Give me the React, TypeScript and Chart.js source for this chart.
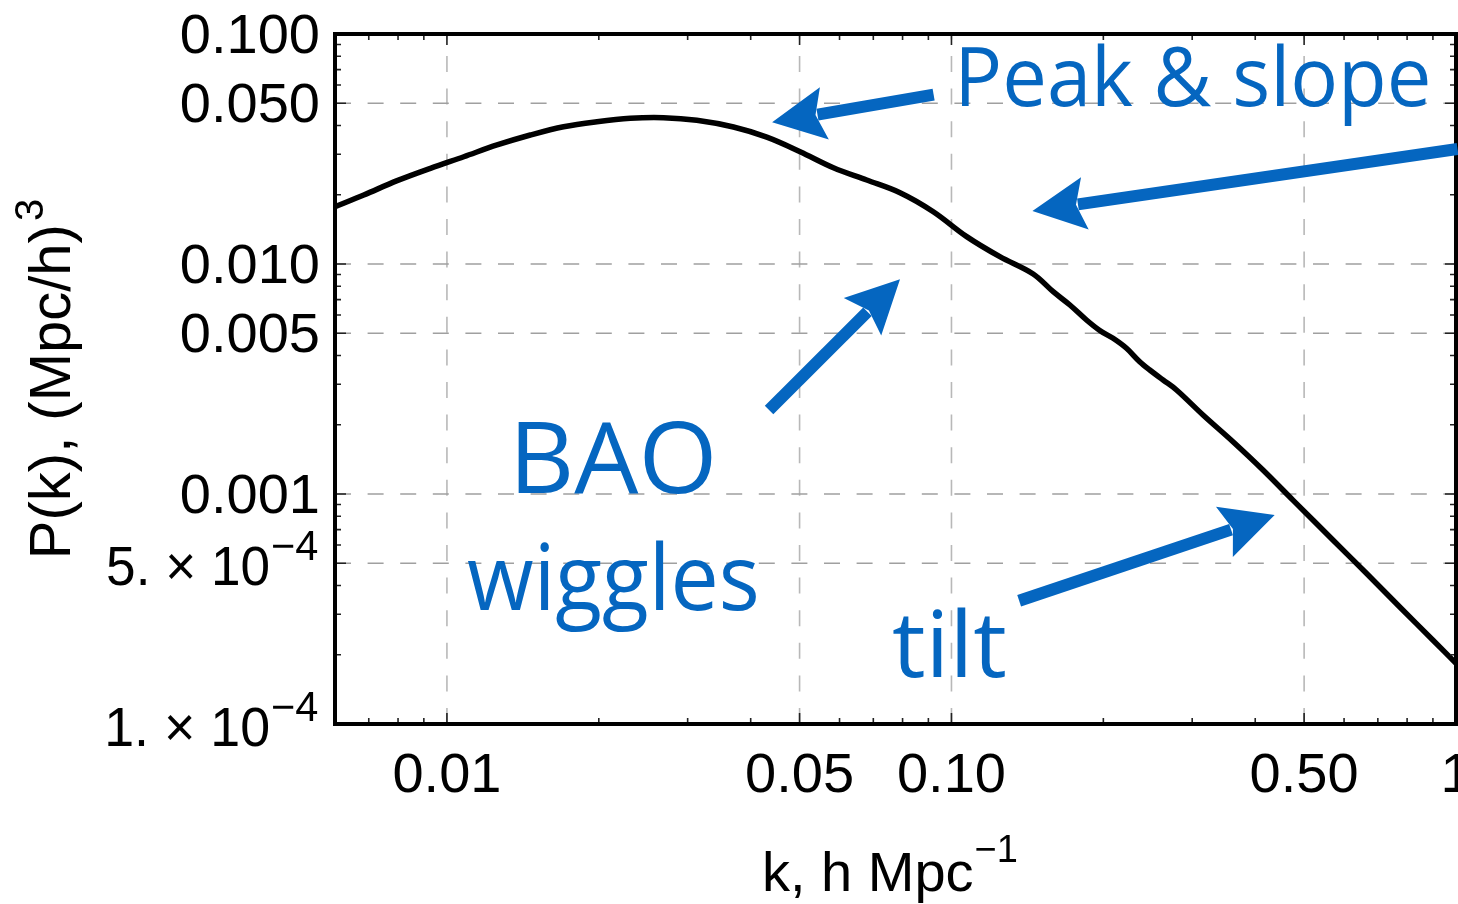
import React, { useEffect, useRef } from 'react';
import { Chart, registerables } from 'chart.js';

Chart.register(...registerables);

// ---- data ----
const K_VALUES = [
  0.006, 0.006842, 0.007967, 0.009275, 0.0108, 0.01257, 0.01463, 0.01703, 0.01983, 0.02309,
  0.02687, 0.03128, 0.03698, 0.04305, 0.05012, 0.05834, 0.06793, 0.07907, 0.09204, 0.1072,
  0.1247, 0.1452, 0.1591, 0.1717, 0.1852, 0.1968, 0.2091, 0.2223, 0.2361, 0.2472,
  0.2627, 0.2793, 0.3152, 0.3614, 0.4144, 0.4751, 0.5702, 0.6643, 0.7728, 0.8995, 1.0,
];
const P_VALUES = [
  0.01774, 0.01995, 0.02303, 0.02607, 0.02927, 0.03292, 0.03638, 0.03954, 0.04157, 0.043,
  0.04326, 0.04215, 0.0394, 0.0356, 0.03078, 0.02623, 0.02318, 0.02042, 0.01688, 0.01315,
  0.01076, 0.009048, 0.007578, 0.006634, 0.005708, 0.005139, 0.004753, 0.0043, 0.00376, 0.003459,
  0.003131, 0.002833, 0.002206, 0.001688, 0.001272, 0.000941, 0.000631, 0.000452, 0.0003236, 0.0002318, 0.0001836,
];

const X_MIN = 0.006;
const X_MAX = 1;
const Y_MIN = 0.0001;
const Y_MAX = 0.1;

const X_TICK_VALUES = [0.01, 0.05, 0.1, 0.5, 1];
const X_TICK_LABELS = ['0.01', '0.05', '0.10', '0.50', '1'];
const Y_TICK_VALUES = [0.1, 0.05, 0.01, 0.005, 0.001, 0.0005, 0.0001];
const Y_TICK_LABELS = ['0.100', '0.050', '0.010', '0.005', '0.001', '5. \u00d7 10', '1. \u00d7 10'];
const Y_TICK_EXPONENTS = ['', '', '', '', '', '\u22124', '\u22124'];
const X_GRID = [0.01, 0.05, 0.1, 0.5];
const Y_GRID = [0.05, 0.01, 0.005, 0.001, 0.0005];

const X_TITLE = 'k, h Mpc';
const X_TITLE_EXP = '\u22121';
const Y_TITLE = 'P(k), (Mpc/h)';
const Y_TITLE_EXP = '3';

// annotation arrows in data coordinates (tail -> tip)
const ARROW_FROM_K = [0.09218, 1.007, 0.0435, 0.1362];
const ARROW_FROM_P = [0.05446, 0.03162, 0.002318, 0.0003436];
const ARROW_TO_K = [0.04411, 0.1447, 0.07907, 0.4371];
const ARROW_TO_P = [0.04131, 0.017, 0.00858, 0.00081];

const NOTES = ['Peak & slope', 'BAO', 'wiggles', 'tilt'];

const BLUE = '#0566c0';
const AXIS_FONT = '"Liberation Sans", Arial, sans-serif';
const NOTE_FONT = '"Open Sans", sans-serif';

function fitText(ctx: CanvasRenderingContext2D, text: string, left: number, right: number, baseline: number) {
  ctx.save();
  ctx.textAlign = 'left';
  ctx.textBaseline = 'alphabetic';
  const m = ctx.measureText(text);
  const abl = m.actualBoundingBoxLeft;
  const abr = m.actualBoundingBoxRight;
  const sx = (right - left) / (abl + abr);
  ctx.translate(left, baseline);
  ctx.scale(sx, 1);
  ctx.fillText(text, abl, 0);
  ctx.restore();
}

function drawArrow(ctx: CanvasRenderingContext2D, x1: number, y1: number, x2: number, y2: number) {
  const dx = x2 - x1;
  const dy = y2 - y1;
  const len = Math.hypot(dx, dy);
  const ux = dx / len;
  const uy = dy / len;
  const nx = -uy;
  const ny = ux;
  const H = 53;
  const W = 26.5;
  const N = 44;
  ctx.save();
  ctx.strokeStyle = BLUE;
  ctx.fillStyle = BLUE;
  ctx.lineWidth = 12;
  ctx.lineCap = 'butt';
  ctx.beginPath();
  ctx.moveTo(x1, y1);
  ctx.lineTo(x2 - ux * (N + 2), y2 - uy * (N + 2));
  ctx.stroke();
  ctx.beginPath();
  ctx.moveTo(x2, y2);
  ctx.lineTo(x2 - ux * H + nx * W, y2 - uy * H + ny * W);
  ctx.lineTo(x2 - ux * N, y2 - uy * N);
  ctx.lineTo(x2 - ux * H - nx * W, y2 - uy * H - ny * W);
  ctx.closePath();
  ctx.fill();
  ctx.restore();
}

function logTicks(min: number, max: number): number[] {
  const out: number[] = [];
  for (let e = Math.floor(Math.log10(min)); e <= Math.ceil(Math.log10(max)); e++) {
    for (let m = 1; m <= 9; m++) {
      const v = m * Math.pow(10, e);
      if (v >= min * 0.999 && v <= max * 1.001) out.push(v);
    }
  }
  return out;
}

const isIn = (v: number, arr: number[]) => arr.some((a) => Math.abs(a - v) / a < 1e-6);

const decorPlugin = {
  id: 'decor',
  beforeDatasetsDraw(chart: any) {
    const { ctx, chartArea: a, scales } = chart;
    const x = scales.x;
    const y = scales.y;
    ctx.save();
    ctx.beginPath();
    ctx.rect(a.left, a.top, a.right - a.left, a.bottom - a.top);
    ctx.clip();
    ctx.lineWidth = 1.6;
    ctx.setLineDash([16, 16.6]);
    ctx.strokeStyle = '#b8b8b8';
    for (const v of X_GRID) {
      const px = x.getPixelForValue(v);
      ctx.beginPath();
      ctx.moveTo(px, a.bottom);
      ctx.lineTo(px, a.top);
      ctx.stroke();
    }
    ctx.strokeStyle = '#a0a0a0';
    for (const v of Y_GRID) {
      const py = y.getPixelForValue(v);
      ctx.beginPath();
      ctx.moveTo(a.left, py);
      ctx.lineTo(a.right, py);
      ctx.stroke();
    }
    ctx.restore();
  },
  afterDatasetsDraw(chart: any) {
    const { ctx, chartArea: a, scales } = chart;
    const x = scales.x;
    const y = scales.y;
    ctx.save();

    // ticks (inward, all four sides)
    ctx.strokeStyle = '#222';
    ctx.lineWidth = 1.6;
    for (const v of logTicks(X_MIN, X_MAX)) {
      const px = x.getPixelForValue(v);
      const len = isIn(v, X_TICK_VALUES) ? 11 : 6;
      ctx.beginPath();
      ctx.moveTo(px, a.bottom);
      ctx.lineTo(px, a.bottom - len);
      ctx.moveTo(px, a.top);
      ctx.lineTo(px, a.top + len);
      ctx.stroke();
    }
    for (const v of logTicks(Y_MIN, Y_MAX)) {
      const py = y.getPixelForValue(v);
      const len = isIn(v, Y_TICK_VALUES) ? 11 : 6;
      ctx.beginPath();
      ctx.moveTo(a.left, py);
      ctx.lineTo(a.left + len, py);
      ctx.moveTo(a.right, py);
      ctx.lineTo(a.right - len, py);
      ctx.stroke();
    }

    // frame
    ctx.strokeStyle = '#000';
    ctx.lineWidth = 4;
    ctx.strokeRect(a.left, a.top, a.right - a.left, a.bottom - a.top);

    // y tick labels
    ctx.fillStyle = '#000';
    ctx.textBaseline = 'alphabetic';
    Y_TICK_VALUES.forEach((v, i) => {
      const py = y.getPixelForValue(v);
      const exp = Y_TICK_EXPONENTS[i];
      if (!exp) {
        ctx.font = `56px ${AXIS_FONT}`;
        ctx.textAlign = 'right';
        ctx.fillText(Y_TICK_LABELS[i], 320, py + 19);
      } else {
        ctx.font = `42px ${AXIS_FONT}`;
        fitText(ctx, exp, 273, 318, py - 3);
        ctx.font = `56px ${AXIS_FONT}`;
        fitText(ctx, Y_TICK_LABELS[i], 108, 268, py + 22);
      }
    });

    // x tick labels
    ctx.font = `56px ${AXIS_FONT}`;
    ctx.textAlign = 'center';
    X_TICK_VALUES.forEach((v, i) => {
      const px = x.getPixelForValue(v);
      ctx.fillText(X_TICK_LABELS[i], px, 792);
    });

    // x title
    ctx.textAlign = 'left';
    ctx.font = `56px ${AXIS_FONT}`;
    const bw = ctx.measureText(X_TITLE).width;
    const startX = 762;
    ctx.fillText(X_TITLE, startX, 891);
    ctx.font = `38px ${AXIS_FONT}`;
    ctx.fillText(X_TITLE_EXP, startX + bw + 1, 862);

    // y title (rotated)
    ctx.save();
    ctx.font = `58px ${AXIS_FONT}`;
    const yb = ctx.measureText(Y_TITLE).width;
    ctx.font = `40px ${AXIS_FONT}`;
    const ye = ctx.measureText(Y_TITLE_EXP).width;
    const cy = (a.top + a.bottom) / 2;
    const total = yb + ye + 3;
    ctx.translate(70, cy + total / 2);
    ctx.rotate(-Math.PI / 2);
    ctx.font = `58px ${AXIS_FONT}`;
    ctx.fillText(Y_TITLE, 0, 0);
    ctx.font = `40px ${AXIS_FONT}`;
    ctx.fillText(Y_TITLE_EXP, yb + 3, -27);
    ctx.restore();

    // annotations
    for (let i = 0; i < ARROW_FROM_K.length; i++) {
      drawArrow(
        ctx,
        x.getPixelForValue(ARROW_FROM_K[i]),
        y.getPixelForValue(ARROW_FROM_P[i]),
        x.getPixelForValue(ARROW_TO_K[i]),
        y.getPixelForValue(ARROW_TO_P[i])
      );
    }
    ctx.fillStyle = BLUE;
    ctx.font = `83px ${NOTE_FONT}`;
    fitText(ctx, NOTES[0], 962, 1428, 106);
    ctx.font = `98px ${NOTE_FONT}`;
    fitText(ctx, NOTES[1], 518, 712, 493);
    ctx.font = `92px ${NOTE_FONT}`;
    fitText(ctx, NOTES[2], 468, 756, 610);
    ctx.font = `92px ${NOTE_FONT}`;
    fitText(ctx, NOTES[3], 893, 1005, 677);

    ctx.restore();
  },
};

export default function App() {
  const ref = useRef<HTMLCanvasElement | null>(null);
  useEffect(() => {
    if (!ref.current) return;
    const chart = new Chart(ref.current, {
      type: 'line',
      data: {
        datasets: [
          {
            data: K_VALUES.map((k, i) => ({ x: k, y: P_VALUES[i] })),
            borderColor: '#000',
            borderWidth: 5.5,
            pointRadius: 0,
            fill: false,
            tension: 0.35,
            borderJoinStyle: 'round',
          },
        ],
      },
      options: {
        animation: false,
        responsive: false,
        layout: { padding: { left: 0, right: 2, top: 34, bottom: 0 } },
        plugins: { legend: { display: false }, tooltip: { enabled: false } },
        scales: {
          x: {
            type: 'logarithmic',
            min: X_MIN,
            max: X_MAX,
            ticks: { display: false },
            grid: { display: false },
            border: { display: false },
            afterFit: (s: any) => {
              s.height = 180;
            },
          },
          y: {
            type: 'logarithmic',
            min: Y_MIN,
            max: Y_MAX,
            ticks: { display: false },
            grid: { display: false },
            border: { display: false },
            afterFit: (s: any) => {
              s.width = 335;
            },
          },
        },
      },
      plugins: [decorPlugin],
    } as any);
    return () => chart.destroy();
  }, []);
  return (
    <div style={{ position: 'fixed', left: 0, top: 0, width: 1458, height: 904, background: '#fff' }}>
      <canvas ref={ref} width={1458} height={904} style={{ display: 'block' }} />
    </div>
  );
}
